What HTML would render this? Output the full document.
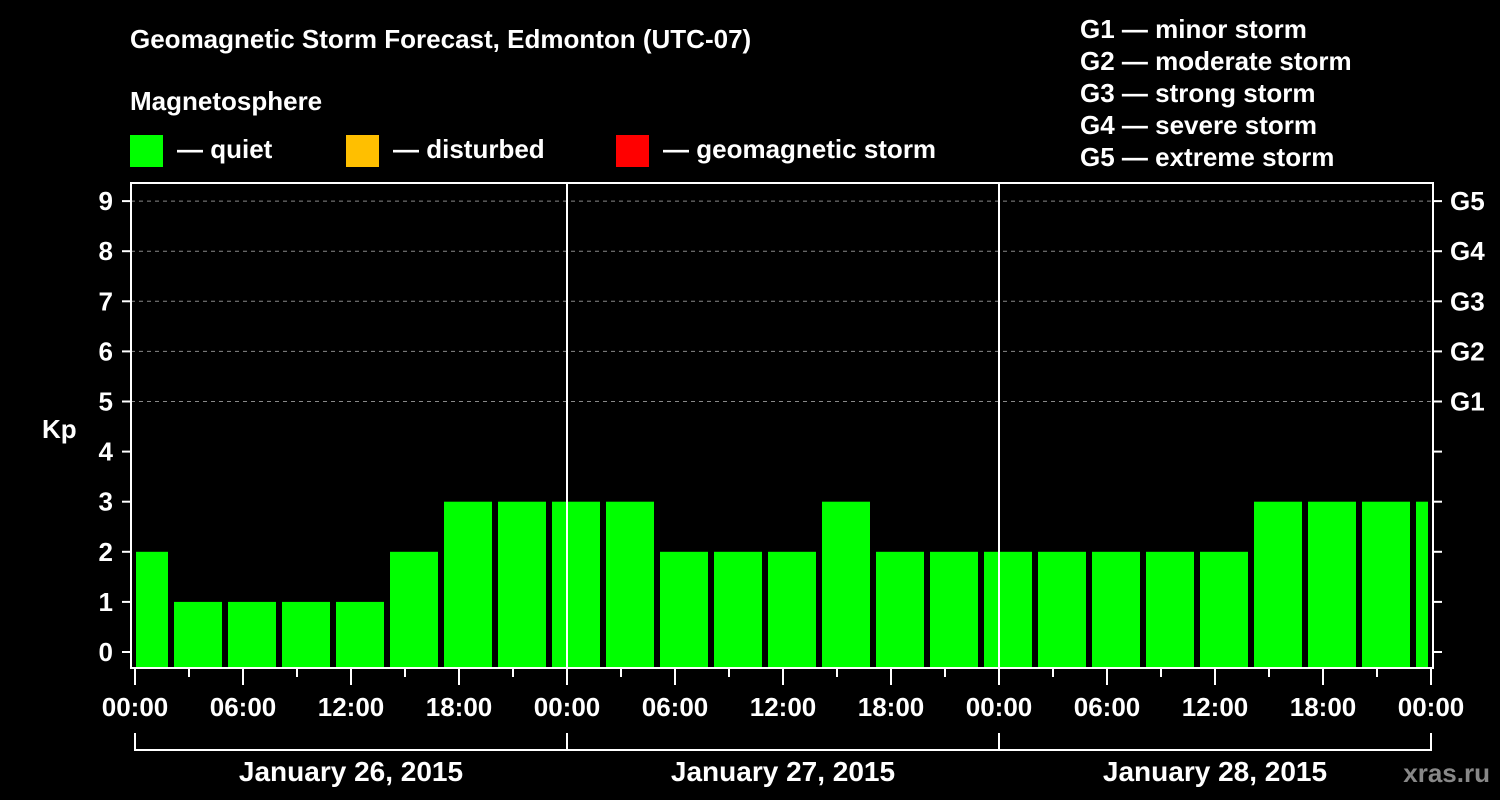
<!DOCTYPE html>
<html><head><meta charset="utf-8"><style>
body{margin:0;background:#000;}
svg{display:block;font-family:"Liberation Sans",Arial,sans-serif;font-weight:bold;}
</style></head><body>
<svg id="chart" width="1500" height="800" viewBox="0 0 1500 800">
<rect width="1500" height="800" fill="#000"/>
<text x="130" y="48" fill="#fff" font-size="26">Geomagnetic Storm Forecast, Edmonton (UTC-07)</text>
<text x="130" y="110" fill="#fff" font-size="26">Magnetosphere</text>
<g><rect x="130" y="135" width="33" height="32" fill="#00ff00"/><text x="177" y="158" fill="#fff" font-size="26">— quiet</text></g>
<g><rect x="346" y="135" width="33" height="32" fill="#ffbf00"/><text x="393" y="158" fill="#fff" font-size="26">— disturbed</text></g>
<g><rect x="616" y="135" width="33" height="32" fill="#ff0000"/><text x="663" y="158" fill="#fff" font-size="26">— geomagnetic storm</text></g>
<g fill="#fff" font-size="26">
<text x="1080" y="38">G1 — minor storm</text>
<text x="1080" y="70">G2 — moderate storm</text>
<text x="1080" y="102">G3 — strong storm</text>
<text x="1080" y="134">G4 — severe storm</text>
<text x="1080" y="166">G5 — extreme storm</text>
</g>
<text x="42" y="438" fill="#fff" font-size="26">Kp</text>
<text x="1490" y="782" fill="#888" font-size="26" text-anchor="end">xras.ru</text>
<g id="plot"></g>
</svg>
<script>
const startHours=[-1,2,5,8,11,14,17,20,23,26,29,32,35,38,41,44,47,50,53,56,59,62,65,68,71];
const kpValues=[2,1,1,1,1,2,3,3,3,3,2,2,2,3,2,2,2,2,2,2,2,3,3,3,3];
const yTicks=[0,1,2,3,4,5,6,7,8,9];
const gLabels=["G1","G2","G3","G4","G5"];
const xTickLabels=["00:00","06:00","12:00","18:00","00:00","06:00","12:00","18:00","00:00","06:00","12:00","18:00","00:00"];
const dayLabels=["January 26, 2015","January 27, 2015","January 28, 2015"];

const NS="http://www.w3.org/2000/svg";
const plot=document.getElementById('plot');
const X=h=>135+h*18;
const Y=v=>652-v*50.1;
const L=131,R=1433,T=183,B=668;
function el(tag,a,txt){const e=document.createElementNS(NS,tag);for(const k in a)e.setAttribute(k,a[k]);if(txt!==undefined)e.textContent=txt;plot.appendChild(e);return e;}

// bars
for(let i=0;i<kpValues.length;i++){
  const v=kpValues[i];
  let x0=X(startHours[i])+3, x1=X(startHours[i]+3)-3;
  x0=Math.max(x0,136); x1=Math.min(x1,1428);
  const col=v>=5?'#ff0000':(v>=4?'#ffbf00':'#00ff00');
  const r=el('rect',{x:x0,y:Y(v),width:x1-x0,height:B-1-Y(v),fill:col});
  
  
}
// gridlines + y ticks
yTicks.forEach(v=>{
  if(v>=5){const g=el('line',{x1:L,x2:R,y1:Y(v),y2:Y(v),stroke:'#888','stroke-width':1,'stroke-dasharray':'4,4'});
    
    }
  el('line',{x1:122,x2:L,y1:Y(v),y2:Y(v),stroke:'#fff','stroke-width':2});
  el('line',{x1:R,x2:1442,y1:Y(v),y2:Y(v),stroke:'#fff','stroke-width':2});
  const t=el('text',{x:113,y:Y(v)+9,fill:'#fff','font-size':26,'text-anchor':'end'},String(v));
  
  
});
gLabels.forEach((g,i)=>{
  const t=el('text',{x:1450,y:Y(5+i)+9,fill:'#fff','font-size':26},g);
  
  
});
// day separators
[24,48].forEach(h=>{el('line',{x1:X(h),x2:X(h),y1:T,y2:B,stroke:'#fff','stroke-width':2});});
// frame
const f=el('rect',{x:L,y:T,width:R-L,height:B-T,fill:'none',stroke:'#fff','stroke-width':2});


// x ticks
for(let h=0;h<=72;h+=3){
  const major=h%6===0;
  el('line',{x1:X(h),x2:X(h),y1:B+1,y2:major?B+17:B+9,stroke:'#fff','stroke-width':2});
}
xTickLabels.forEach((s,i)=>{
  const t=el('text',{x:X(i*6),y:716,fill:'#fff','font-size':26,'text-anchor':'middle'},s);
  
  
});
// day brackets
el('line',{x1:X(0),x2:X(72),y1:750,y2:750,stroke:'#fff','stroke-width':2});
[0,24,48,72].forEach(h=>el('line',{x1:X(h),x2:X(h),y1:733,y2:751,stroke:'#fff','stroke-width':2}));
dayLabels.forEach((s,i)=>{
  const t=el('text',{x:X(i*24+12),y:781,fill:'#fff','font-size':28,'text-anchor':'middle'},s);
  
  
});
</script>
</body></html>
